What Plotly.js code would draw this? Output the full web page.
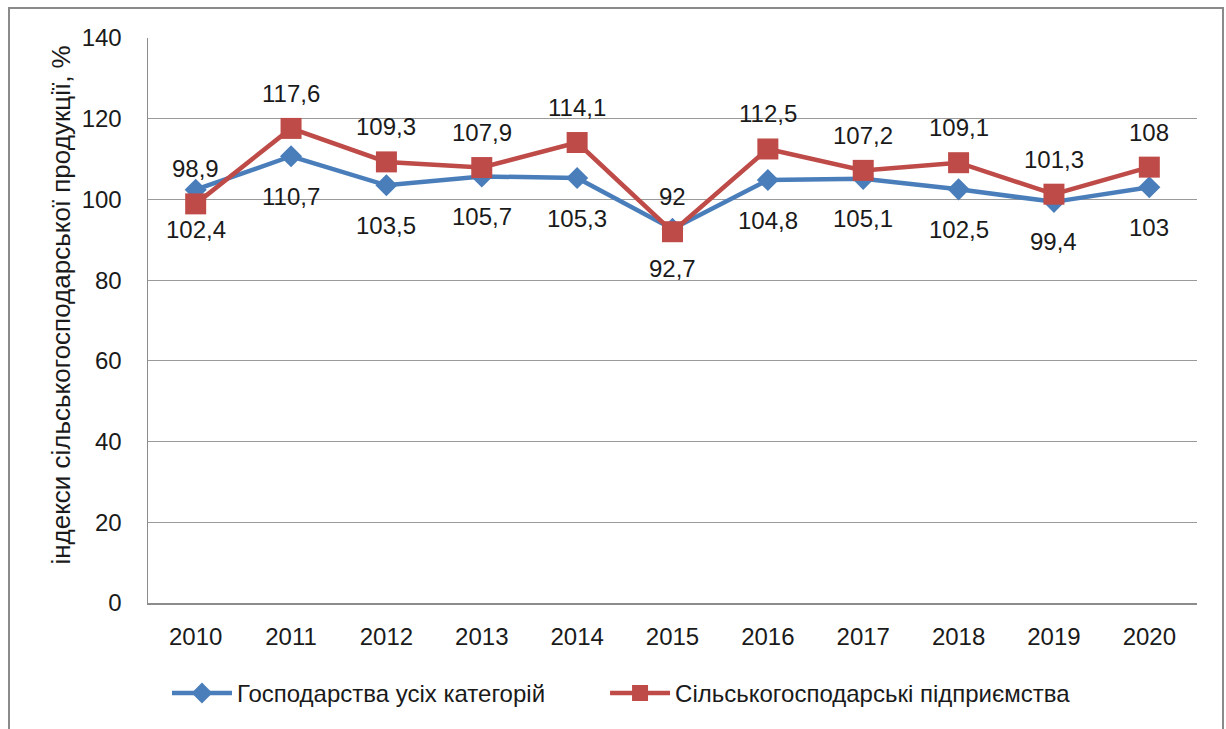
<!DOCTYPE html>
<html>
<head>
<meta charset="utf-8">
<script src="https://cdn.plot.ly/plotly-3.0.1.min.js"></script>
<style>
  html, body { margin: 0; padding: 0; background: #fff; }
  #wrap { position: relative; width: 1226px; height: 729px; overflow: hidden; }
  #chart { position: absolute; left: 0; top: 0; width: 1226px; height: 729px; }
  #frame { position: absolute; left: 8px; top: 7px; width: 1212px; height: 740px;
           border: 2px solid #8a8a8a; pointer-events: none; }
</style>
</head>
<body>
<div id="wrap">
  <div id="chart"></div>
  <div id="frame"></div>
</div>
<script>
const years = ['2010','2011','2012','2013','2014','2015','2016','2017','2018','2019','2020'];
const allCategories = [102.4, 110.7, 103.5, 105.7, 105.3, 92.7, 104.8, 105.1, 102.5, 99.4, 103];
const agriEnterprises = [98.9, 117.6, 109.3, 107.9, 114.1, 92, 112.5, 107.2, 109.1, 101.3, 108];
const seriesNames = ['Господарства усіх категорій', 'Сільськогосподарські підприємства'];
const yTitle = 'індекси сільськогосподарської продукції, %';

const fmt = v => String(v).replace('.', ',');
const FONT = 'Liberation Sans, Arial, sans-serif';
const TXT = '#1a1a1a';
const BLUE = '#4A7EBB';
const RED = '#BE4B48';

const traces = [
  {
    x: years, y: allCategories, name: seriesNames[0], type: 'scatter',
    mode: 'lines+markers', legend: 'legend',
    line: {color: BLUE, width: 4.5},
    marker: {symbol: 'diamond', size: 17, color: BLUE},
    cliponaxis: false
  },
  {
    x: years, y: agriEnterprises, name: seriesNames[1], type: 'scatter',
    mode: 'lines+markers', legend: 'legend2',
    line: {color: RED, width: 4.5},
    marker: {symbol: 'square', size: 21, color: RED},
    cliponaxis: false
  }
];

const labelFont = {family: FONT, size: 24, color: TXT};
const annotations = [];
years.forEach((yr, i) => {
  // category axis: position annotations by category index
  annotations.push({x: i, y: allCategories[i], xref: 'x', yref: 'y', text: fmt(allCategories[i]),
    showarrow: false, yshift: -40, xanchor: 'center', yanchor: 'middle', font: labelFont});
  annotations.push({x: i, y: agriEnterprises[i], xref: 'x', yref: 'y', text: fmt(agriEnterprises[i]),
    showarrow: false, yshift: 35, xanchor: 'center', yanchor: 'middle', font: labelFont});
});
// y-axis title
annotations.push({xref: 'paper', yref: 'paper', x: -0.083, y: 0.528, text: yTitle, textangle: -90,
  showarrow: false, xanchor: 'center', yanchor: 'middle', font: {family: FONT, size: 26, color: TXT}});

const legendFont = {family: FONT, size: 24, color: TXT};
const layout = {
  width: 1226, height: 729,
  margin: {l: 148, r: 29, t: 38, b: 126},
  paper_bgcolor: '#fff', plot_bgcolor: '#fff',
  font: {family: FONT, size: 24, color: TXT},
  showlegend: true,
  legend: {orientation: 'h', x: 0.0181, xanchor: 'left', y: -0.16, yanchor: 'middle',
           font: legendFont, itemwidth: 60},
  legend2: {orientation: 'h', x: 0.4357, xanchor: 'left', y: -0.16, yanchor: 'middle',
           font: legendFont, itemwidth: 60},
  annotations: annotations,
  xaxis: {
    type: 'category', range: [-0.5, 10.5],
    showgrid: false, zeroline: false,
    showline: true, linecolor: '#8c8c8c', linewidth: 1.5,
    ticks: '', ticklabelstandoff: 12,
    tickfont: {family: FONT, size: 24, color: TXT}
  },
  yaxis: {
    range: [0, 140], dtick: 20, tick0: 0,
    showgrid: true, gridcolor: '#9a9a9a', gridwidth: 1,
    zeroline: false, showline: true, linecolor: '#8c8c8c', linewidth: 1.5,
    ticks: '', ticklabelstandoff: 20,
    tickfont: {family: FONT, size: 24, color: TXT}
  }
};

Plotly.newPlot('chart', traces, layout, {displayModeBar: false, staticPlot: true});
</script>
</body>
</html>
